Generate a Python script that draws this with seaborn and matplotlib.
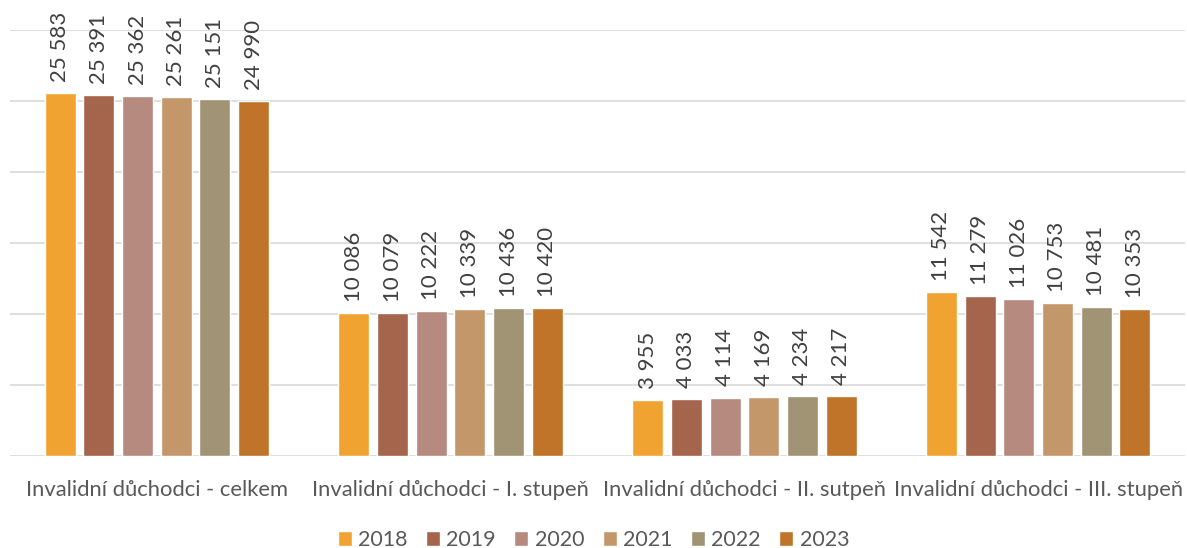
import pandas as pd
import seaborn as sns
import matplotlib.pyplot as plt

# categories and yearly values
categories = [
    "Invalidní důchodci - celkem",
    "Invalidní důchodci - I. stupeň",
    "Invalidní důchodci - II. sutpeň",
    "Invalidní důchodci - III. stupeň",
]
years = ["2018", "2019", "2020", "2021", "2022", "2023"]
total = [25583, 25391, 25362, 25261, 25151, 24990]
degree_1 = [10086, 10079, 10222, 10339, 10436, 10420]
degree_2 = [3955, 4033, 4114, 4169, 4234, 4217]
degree_3 = [11542, 11279, 11026, 10753, 10481, 10353]
colors = ["#F0A330", "#A5644C", "#B68A7F", "#C4976B", "#A19474", "#C07429"]

rows = []
for cat, vals in zip(categories, [total, degree_1, degree_2, degree_3]):
    for yr, v in zip(years, vals):
        rows.append({"category": cat, "year": yr, "value": v})
df = pd.DataFrame(rows)

sns.set_style("white")
plt.rcParams["font.family"] = ["Lato", "DejaVu Sans"]
text_color = "#595959"

fig = plt.figure(figsize=(11.87, 5.48), dpi=100)
ax = fig.add_axes([10 / 1187, 1 - 456 / 548, 1175 / 1187, 426 / 548])

sns.barplot(data=df, x="category", y="value", hue="year", palette=colors,
            saturation=1, width=0.79, gap=0.2, ax=ax, legend=True)

ax.set_ylim(0, 30000)
ax.set_yticks(range(0, 30001, 5000))
ax.yaxis.grid(True, color="#D9D9D9", linewidth=1.2)
ax.set_axisbelow(True)
ax.set_yticklabels([])
ax.tick_params(axis="y", length=0)
ax.tick_params(axis="x", length=0, pad=17, labelsize=15.8, labelcolor=text_color)
for s in ax.spines.values():
    s.set_visible(False)
ax.set_xlabel("")
ax.set_ylabel("")

for cont in ax.containers:
    labels = [f"{int(v):,}".replace(",", " ") for v in cont.datavalues]
    ax.bar_label(cont, labels=labels, rotation=90, padding=8,
                 fontsize=16, color="#404040")

handles, lbls = ax.get_legend_handles_labels()
ax.get_legend().remove()
fig.legend(handles, lbls, loc="center", bbox_to_anchor=(0.5, 1 - 540 / 548),
           ncol=6, frameon=False, fontsize=15.5, handlelength=0.65,
           handleheight=0.65, columnspacing=0.85, handletextpad=0.3,
           labelcolor=text_color)

fig.savefig("out.png", dpi=100)
